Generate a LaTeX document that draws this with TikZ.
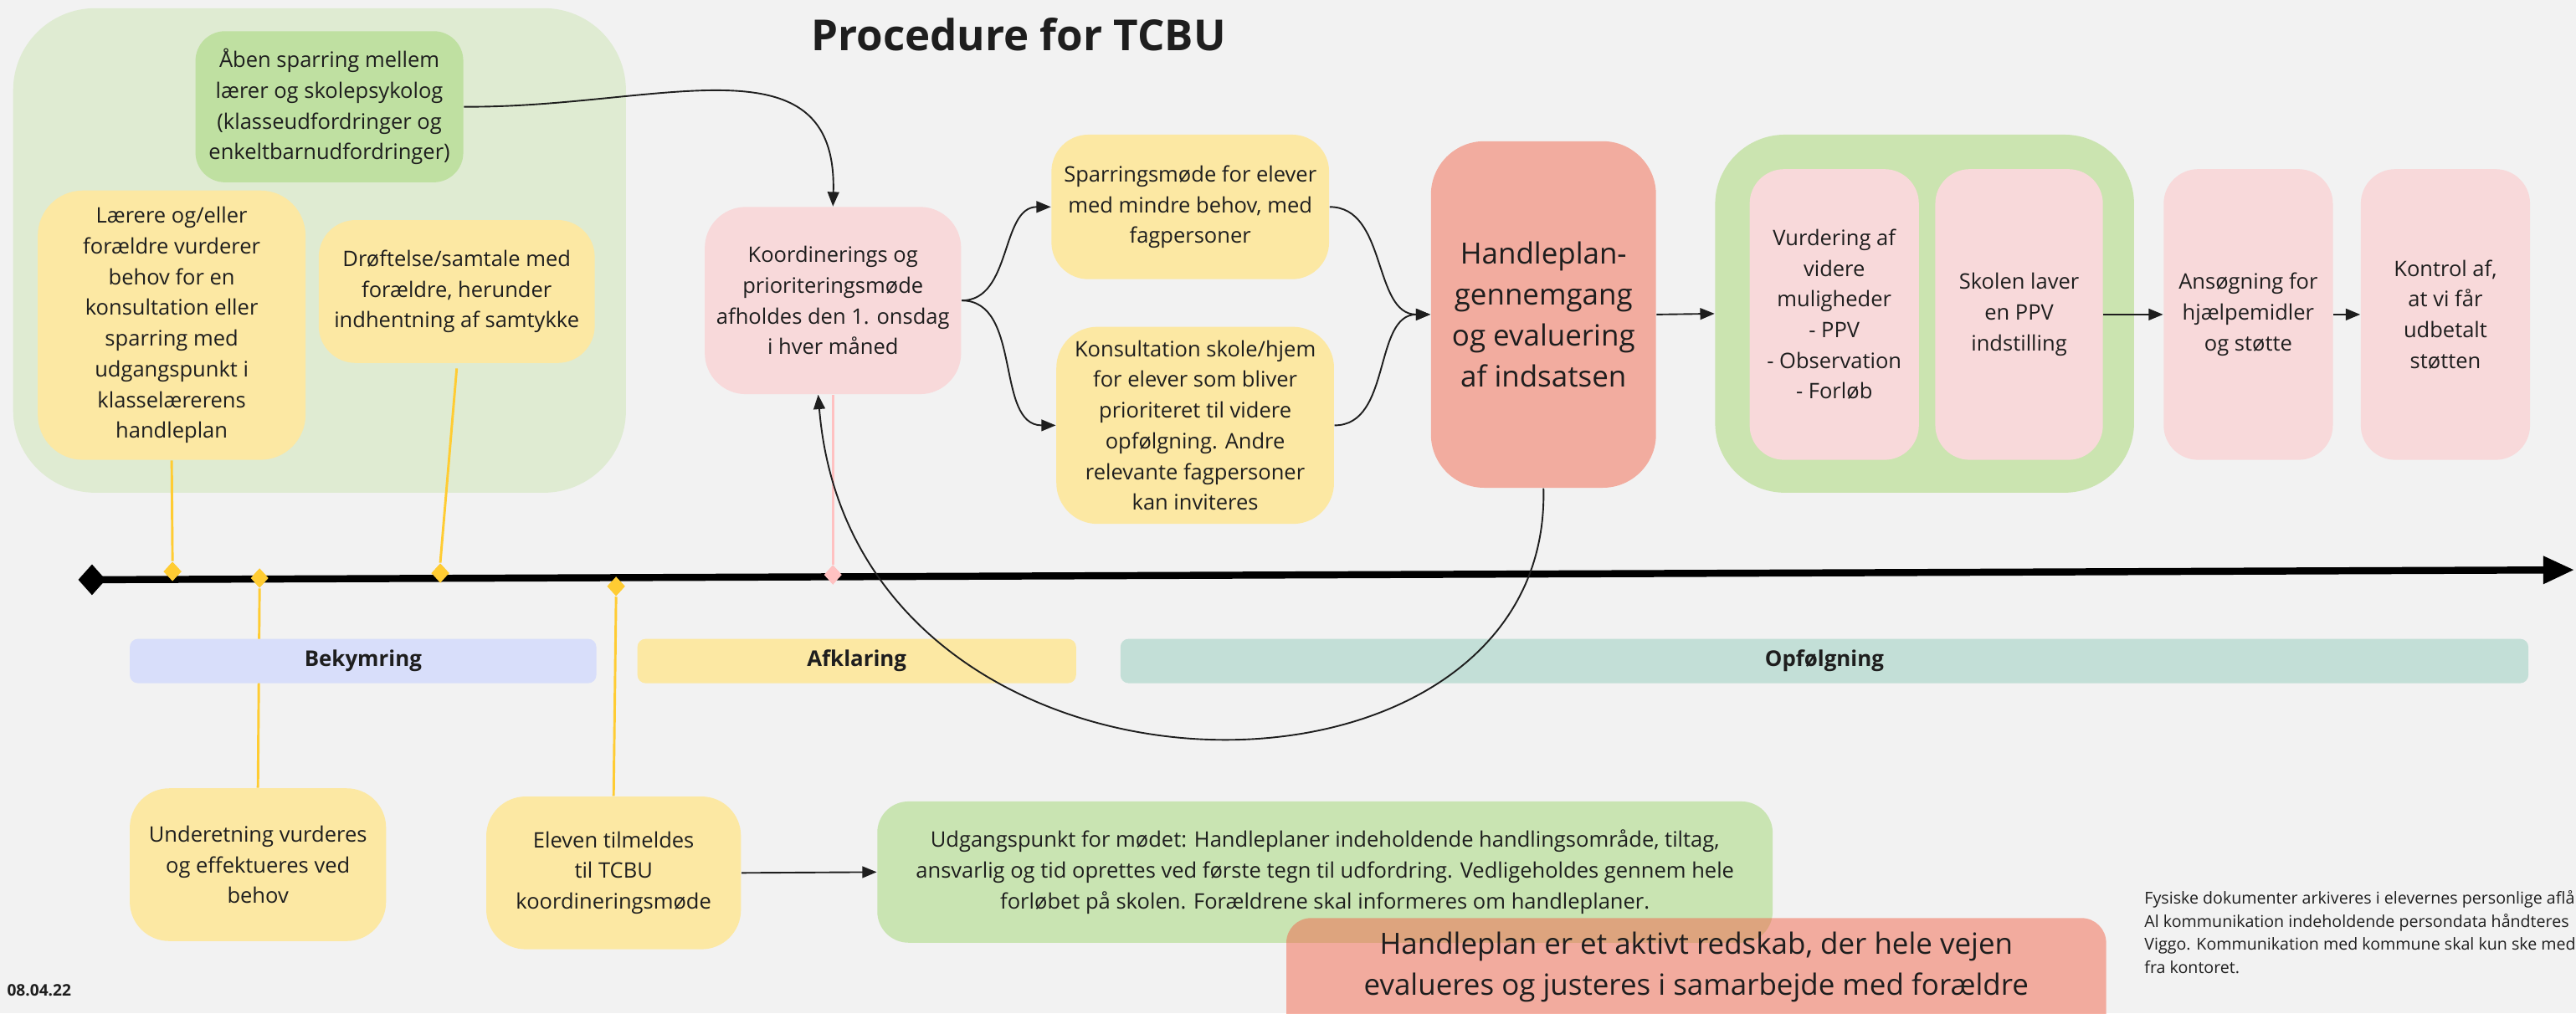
\documentclass[tikz,border=0pt]{standalone}
\usepackage{fontspec}
\setmainfont{Open Sans}
\usetikzlibrary{shapes.geometric,arrows.meta}

\definecolor{bg}{HTML}{F2F2F2}
\definecolor{ink}{HTML}{1E1E1E}
\definecolor{groupgreen}{HTML}{DFEBD2}
\definecolor{midgreen}{HTML}{BFE0A1}
\definecolor{stepyellow}{HTML}{FCE8A3}
\definecolor{steppink}{HTML}{F8D9DA}
\definecolor{salmon}{HTML}{F2AC9F}
\definecolor{ppvgreen}{HTML}{CBE4B0}
\definecolor{notegreen}{HTML}{C9E4B2}
\definecolor{redfill}{RGB}{242,102,76}
\definecolor{lavender}{HTML}{D8DEFA}
\definecolor{teal}{HTML}{C3DFD7}
\definecolor{gold}{HTML}{FFCC33}
\definecolor{rosemark}{HTML}{FFC1C1}

\newcommand\fbody{\fontsize{7.4pt}{10.64pt}\selectfont}
\newcommand\fbig{\fontsize{10.13pt}{14.2pt}\selectfont}
\newcommand\ftitle{\bfseries\fontsize{14.8pt}{18pt}\selectfont}
\newcommand\fphase{\bfseries\fontsize{7.5pt}{9pt}\selectfont}
\newcommand\fdate{\bfseries\fontsize{5.55pt}{7pt}\selectfont}
\newcommand\fnote{\fontsize{5.69pt}{7.97pt}\selectfont}

\tikzset{
  card/.style 2 args={inner sep=0pt, align=center, text=ink, font=\fbody,
    minimum width=#1*0.02cm, minimum height=#2*0.02cm},
  yellowcard/.style={fill=stepyellow},
  pinkcard/.style={fill=steppink},
  phase/.style={inner sep=0pt, text=ink, font=\fphase, rounded corners=0.1cm,
    minimum height=27*0.02cm},
  tick/.style={shape=diamond, inner sep=0pt, minimum width=0.22cm, minimum height=0.24cm, fill=gold},
  stem/.style={draw=gold, line width=0.85pt},
  link/.style={draw=ink, line width=0.55pt, -{Triangle[length=5pt,width=4pt]}},
}

\begin{document}
\begin{tikzpicture}[x=0.02cm,y=-0.02cm]
\useasboundingbox (0,0) rectangle (1568,617);
\clip (0,0) rectangle (1568,617);
\fill[bg] (0,0) rectangle (1568,617);

% title
\node[font=\ftitle, text=ink, inner sep=0pt] (title) at (620,21) {Procedure for TCBU};

% concern group
\node[card={373}{295}, fill=groupgreen, rounded corners=1cm] (group) at (194.5,152.5) {};
\node[card={163}{92}, fill=midgreen, rounded corners=0.36cm] (aaben) at (200.5,65)
  {Åben sparring mellem\\lærer og skolepsykolog\\(klasseudfordringer og\\enkeltbarnudfordringer)};
\node[card={163}{164}, yellowcard, rounded corners=0.55cm] (laerere) at (104.5,198)
  {Lærere og/eller\\forældre vurderer\\behov for en\\konsultation eller\\sparring med\\udgangspunkt i\\klasselærerens\\handleplan};
\node[card={168}{87}, yellowcard, rounded corners=0.45cm] (droft) at (278,177.5)
  {Drøftelse/samtale med\\forældre, herunder\\indhentning af samtykke};

% clarification
\node[card={156}{114}, pinkcard, rounded corners=0.5cm] (koord) at (507,183)
  {Koordinerings og\\prioriteringsmøde\\afholdes den 1. onsdag\\i hver måned};
\node[card={169}{88}, yellowcard, rounded corners=0.45cm] (sparr) at (724.5,126)
  {Sparringsmøde for elever\\med mindre behov, med\\fagpersoner};
\node[card={169}{120}, yellowcard, rounded corners=0.5cm] (konsul) at (727.5,259)
  {Konsultation skole/hjem\\for elever som bliver\\prioriteret til videre\\opfølgning. Andre\\relevante fagpersoner\\kan inviteres};
\node[card={137}{211}, fill=salmon, rounded corners=0.65cm, font=\fbig] (hand) at (939.5,191.5)
  {Handleplan-\\gennemgang\\og evaluering\\af indsatsen};

% follow-up
\node[card={255}{218}, fill=ppvgreen, rounded corners=0.85cm] (ppv) at (1171.5,191) {};
\node[card={103}{177}, pinkcard, rounded corners=0.42cm] (vurd) at (1116.5,191.5)
  {Vurdering af\\videre\\muligheder\\- PPV\\- Observation\\- Forløb};
\node[card={102}{177}, pinkcard, rounded corners=0.42cm] (skolen) at (1229,191.5)
  {Skolen laver\\en PPV\\indstilling};
\node[card={103}{177}, pinkcard, rounded corners=0.42cm] (ansog) at (1368.5,191.5)
  {Ansøgning for\\hjælpemidler\\og støtte};
\node[card={103}{177}, pinkcard, rounded corners=0.42cm] (kontrol) at (1488.5,191.5)
  {Kontrol af,\\at vi får\\udbetalt\\støtten};

% flow arrows
\draw[link] (aaben.east) .. controls (400,66) and (510,20) .. (koord.north);
\draw[link] (koord.east) to[out=0,in=180] (sparr.west);
\draw[link] (koord.east) to[out=0,in=180] (konsul.west);
\draw[link] (sparr.east) to[out=0,in=180] (hand.west);
\draw[link] (konsul.east) to[out=0,in=180] (hand.west);
\draw[link] (hand.east) -- (ppv.west);
\draw[link] (skolen.east) -- (ansog.west);
\draw[link] (ansog.east) -- (kontrol.west);

% timeline markers and stems
\node[tick] (m1) at (105,348) {};
\node[tick] (m2) at (158,352) {};
\node[tick] (m3) at (268,349) {};
\node[tick] (m4) at (375,357) {};
\node[tick, fill=rosemark] (m5) at (507,350) {};

\node[card={156}{93}, yellowcard, rounded corners=0.48cm] (under) at (157,526.5)
  {Underetning vurderes\\og effektueres ved\\behov};
\node[card={155}{93}, yellowcard, rounded corners=0.48cm] (eleven) at (373.5,531.5)
  {Eleven tilmeldes\\til TCBU\\koordineringsmøde};

\draw[stem] (laerere.south) -- (m1.north);
\draw[stem] (m2.south) -- (under.north);
\draw[stem] (droft.south) ++(0,3) -- (m3.north);
\draw[stem] (m4.south) -- (eleven.north);
\draw[draw=rosemark, line width=0.85pt] (koord.south) -- (m5.north);

% timeline
\coordinate (tstart) at (56,353);
\coordinate (tend) at (1567,347);
\draw[line width=2.45pt, -{Triangle[length=10.8pt,width=9.1pt]}] (tstart) -- (tend);
\node[shape=diamond, fill=black, inner sep=0pt, minimum width=0.34cm, minimum height=0.38cm] (tdia) at (tstart) {};
\node[tick] at (m1) {};
\node[tick] at (m2) {};
\node[tick] at (m3) {};
\node[tick] at (m4) {};
\node[tick, fill=rosemark] at (m5) {};

% phases
\node[phase, fill=lavender, minimum width=284*0.02cm] (bekym) at (221,402.5) {Bekymring};
\node[phase, fill=stepyellow, minimum width=267*0.02cm] (afkl) at (521.5,402.5) {Afklaring};
\node[phase, fill=teal, minimum width=857*0.02cm] (opf) at (1110.5,402.5) {Opfølgning};

% loop back from review to coordination
\draw[link] (hand.south) .. controls (945,509) and (520,509) .. ([xshift=-0.18cm]koord.south);

% bottom notes
\node[card={545}{86}, fill=notegreen, rounded corners=0.38cm] (udg) at (806.5,531)
  {Udgangspunkt for mødet: Handleplaner indeholdende handlingsområde, tiltag,\\ansvarlig og tid oprettes ved første tegn til udfordring. Vedligeholdes gennem hele\\forløbet på skolen. Forældrene skal informeres om handleplaner.};
\draw[link] (eleven.east) -- (udg.west);

\node[card={499}{91}, fill=redfill, fill opacity=0.5, rounded corners=0.3cm] (redbox) at (1032.5,604.5) {};
\node[inner sep=0pt, align=center, text=ink, font=\fbig] (redtext) at (1032.5,589)
  {Handleplan er et aktivt redskab, der hele vejen\\evalueres og justeres i samarbejde med forældre};

\node[inner sep=0pt, anchor=north west, align=left, text=ink, font=\fnote] (arkiv) at (1305,542)
  {Fysiske dokumenter arkiveres i elevernes personlige aflå\\Al kommunikation indeholdende persondata håndteres\\Viggo. Kommunikation med kommune skal kun ske med\\fra kontoret.};

\node[inner sep=0pt, anchor=west, text=ink, font=\fdate] (dato) at (4,603) {08.04.22};
\end{tikzpicture}
\end{document}
